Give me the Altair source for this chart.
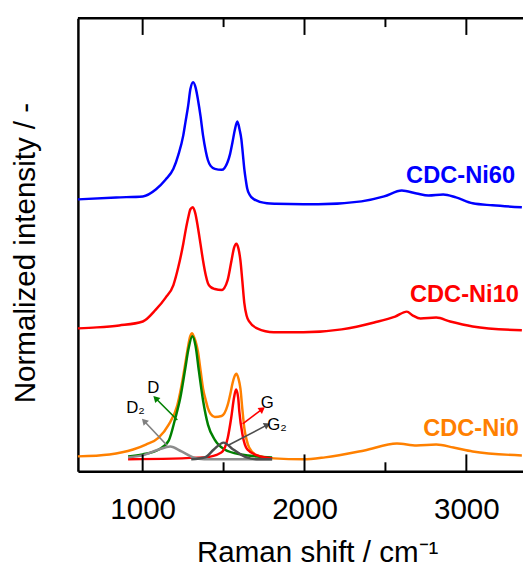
import math
import altair as alt
import pandas as pd

FONT = "Liberation Sans"

# ---------------- data ----------------
# Raman shift (cm-1) and offset normalized intensity for each spectrum
wn_ni60 = [600, 837, 1001, 1081, 1141, 1190, 1220, 1251, 1265, 1281, 1295, 1312, 1328, 1342, 1358,
           1373, 1390, 1403, 1420, 1446, 1488, 1525, 1540, 1555, 1570, 1585, 1600, 1610, 1618, 1628,
           1637, 1646, 1660, 1689, 1768, 1823, 1993, 2084, 2352, 2492, 2601, 2693, 2766, 2857, 2936,
           3039, 3161, 3343]
int_ni60 = [2.76, 2.78, 2.79, 2.86, 2.96, 3.07, 3.21, 3.41, 3.55, 3.71, 3.88, 3.95, 3.89, 3.77, 3.60,
            3.41, 3.25, 3.16, 3.10, 3.07, 3.06, 3.14, 3.22, 3.34, 3.47, 3.55, 3.46, 3.37, 3.24, 3.07,
            2.96, 2.87, 2.81, 2.76, 2.72, 2.715, 2.71, 2.71, 2.74, 2.79, 2.85, 2.82, 2.80, 2.81, 2.78,
            2.72, 2.70, 2.68]

wn_ni10 = [600, 716, 855, 1001, 1081, 1141, 1190, 1220, 1251, 1265, 1281, 1295, 1310, 1325, 1342,
           1358, 1373, 1390, 1403, 1420, 1446, 1488, 1525, 1549, 1565, 1579, 1592, 1604, 1616, 1628,
           1642, 1658, 1707, 1810, 1993, 2230, 2431, 2560, 2632, 2670, 2717, 2814, 2900, 3039, 3343]
int_ni10 = [1.45, 1.46, 1.48, 1.52, 1.64, 1.76, 1.89, 2.07, 2.31, 2.44, 2.57, 2.66, 2.68, 2.62, 2.47,
            2.30, 2.14, 1.99, 1.91, 1.87, 1.85, 1.84, 1.94, 2.14, 2.27, 2.31, 2.26, 2.14, 1.93, 1.71,
            1.58, 1.52, 1.45, 1.41, 1.41, 1.44, 1.51, 1.57, 1.62, 1.58, 1.55, 1.56, 1.52, 1.47, 1.43]

wn_ni0 = [600, 795, 941, 1020, 1099, 1160, 1214, 1251, 1268, 1281, 1294, 1306, 1318, 1330, 1342,
          1358, 1373, 1390, 1403, 1420, 1446, 1488, 1525, 1545, 1555, 1567, 1579, 1592, 1604, 1616,
          1628, 1642, 1658, 1707, 1810, 1993, 2127, 2370, 2571, 2693, 2814, 2920, 3039, 3343]
int_ni0 = [0.15, 0.17, 0.22, 0.27, 0.34, 0.47, 0.67, 0.97, 1.14, 1.27, 1.37, 1.40, 1.36, 1.30, 1.21,
           1.02, 0.84, 0.72, 0.64, 0.58, 0.55, 0.56, 0.67, 0.81, 0.89, 0.96, 0.99, 0.94, 0.84, 0.63,
           0.44, 0.32, 0.24, 0.16, 0.13, 0.12, 0.14, 0.21, 0.28, 0.26, 0.27, 0.24, 0.20, 0.16]

# Fitted components of CDC-Ni0
wn_D = [910, 1000, 1100, 1161, 1202, 1232, 1263, 1283, 1307, 1327, 1348, 1374, 1404, 1445, 1506, 1608, 1800]
int_D = [0.15, 0.17, 0.22, 0.31, 0.54, 0.74, 1.04, 1.24, 1.37, 1.27, 1.01, 0.71, 0.47, 0.32, 0.22, 0.17, 0.14]

wn_G = [910, 1384, 1486, 1526, 1547, 1565, 1577, 1590, 1597, 1617, 1647, 1708, 1800]
int_G = [0.12, 0.14, 0.19, 0.34, 0.54, 0.75, 0.83, 0.75, 0.61, 0.37, 0.22, 0.16, 0.13]

wn_D2 = [910, 1000, 1100, 1170, 1240, 1312, 1380, 1800]
int_D2 = [0.14, 0.16, 0.22, 0.25, 0.20, 0.14, 0.12, 0.12]

wn_G2 = [1300, 1384, 1440, 1500, 1560, 1642, 1720, 1800]
int_G2 = [0.12, 0.14, 0.22, 0.29, 0.22, 0.14, 0.12, 0.12]

# Annotation arrows (start -> head) and labels
arrow_names = ["D", "D2", "G", "G2"]
arrow_x1 = [1214, 1151, 1618, 1526]
arrow_y1 = [0.52, 0.26, 0.48, 0.26]
arrow_x2 = [1080, 1009, 1739, 1770]
arrow_y2 = [0.74, 0.51, 0.63, 0.47]

label_text = ["D", "D\u2082", "G", "G\u2082"]
label_x = [1029, 898, 1729, 1770]
label_y = [0.79, 0.59, 0.64, 0.42]

series_names = ["CDC-Ni60", "CDC-Ni10", "CDC-Ni0"]
series_label_x = [3301, 3325, 3325]
series_label_y = [2.93, 1.72, 0.36]

tick_values = [1000, 1500, 2000, 2500, 3000]
tick_major = [True, False, True, False, True]
label_values = [1000, 2000, 3000]

# ---------------- styling ----------------
series_colors = ["#0000FF", "#FF0000", "#FF8000"]
arrow_colors = {"D": "#008000", "D2": "#808080", "G": "#FF0000", "G2": "#4D4D4D"}

W, H = 452, 460
X_MIN, X_MAX = 600, 3350
Y_MAX = 4.6

x_scale = alt.Scale(domain=[X_MIN, X_MAX], nice=False, zero=False)
y_scale = alt.Scale(domain=[0, Y_MAX], nice=False, zero=False)

x_axis = alt.Axis(values=label_values, format="d", ticks=False, tickSize=0, grid=False,
                  domain=True, domainColor="black", domainWidth=2.5,
                  labelFont=FONT, labelFontSize=30, labelColor="black", labelPadding=24,
                  labelFlush=False,
                  title="Raman shift / cm\u207b\u00b9", titleFont=FONT, titleFontSize=30,
                  titleFontWeight="normal", titleColor="black", titleX=243, titleY=92,
                  titleAlign="center", titleBaseline="alphabetic")
y_axis = alt.Axis(ticks=False, labels=False, grid=False, domain=True, domainColor="black",
                  domainWidth=2.5, title="Normalized intensity / -", titleFont=FONT,
                  titleFontSize=30, titleFontWeight="normal", titleColor="black",
                  titleX=-44, titleY=238, titleAngle=270, titleAlign="center",
                  titleBaseline="alphabetic")


def X(field="wn"):
    return alt.X(f"{field}:Q", scale=x_scale, axis=x_axis)


def Y(field="I"):
    return alt.Y(f"{field}:Q", scale=y_scale, axis=y_axis)


# spectra
spec_df = pd.concat([
    pd.DataFrame({"wn": wn_ni60, "I": int_ni60, "s": "CDC-Ni60"}),
    pd.DataFrame({"wn": wn_ni10, "I": int_ni10, "s": "CDC-Ni10"}),
    pd.DataFrame({"wn": wn_ni0, "I": int_ni0, "s": "CDC-Ni0"}),
])
spectra = alt.Chart(spec_df).mark_line(strokeWidth=2.5, interpolate="monotone").encode(
    x=X(), y=Y(),
    color=alt.Color("s:N", scale=alt.Scale(domain=series_names, range=series_colors), legend=None),
)


def fit_layer(w, i, color):
    df = pd.DataFrame({"wn": w, "I": i})
    return alt.Chart(df).mark_line(strokeWidth=2.5, interpolate="monotone", color=color).encode(
        x=X(), y=Y())


fit_D = fit_layer(wn_D, int_D, "#008000")
fit_G = fit_layer(wn_G, int_G, "#FF0000")
fit_D2 = fit_layer(wn_D2, int_D2, "#8C8C8C")
fit_G2 = fit_layer(wn_G2, int_G2, "#4D4D4D")

# arrows
px_per_wn = W / (X_MAX - X_MIN)
px_per_I = H / Y_MAX
arr_df = pd.DataFrame({"name": arrow_names, "wn": arrow_x1, "I": arrow_y1,
                       "wn2": arrow_x2, "I2": arrow_y2})
arr_df["c"] = arr_df["name"].map(arrow_colors)
arr_df["ang"] = [
    math.degrees(math.atan2((b - a) * px_per_wn, (d - c) * px_per_I)) % 360
    for a, b, c, d in zip(arr_df["wn"], arr_df["wn2"], arr_df["I"], arr_df["I2"])
]
shafts = alt.Chart(arr_df).mark_rule(strokeWidth=1.6).encode(
    x=X(), y=Y(), x2="wn2:Q", y2="I2:Q", color=alt.Color("c:N", scale=None))
heads_df = pd.DataFrame({"wn": arr_df["wn2"], "I": arr_df["I2"], "c": arr_df["c"], "ang": arr_df["ang"]})
heads = alt.Chart(heads_df).mark_point(shape="triangle-up", filled=True, size=55, opacity=1).encode(
    x=X(), y=Y(), color=alt.Color("c:N", scale=None), angle=alt.Angle("ang:Q", scale=None))

comp_labels = alt.Chart(pd.DataFrame({"t": label_text, "wn": label_x, "I": label_y})).mark_text(
    font=FONT, fontSize=17, align="left", baseline="alphabetic", color="black").encode(
    x=X(), y=Y(), text="t:N")

series_labels = alt.Chart(pd.DataFrame({"t": series_names, "wn": series_label_x, "I": series_label_y})).mark_text(
    font=FONT, fontSize=24, fontWeight="bold", align="right", baseline="alphabetic").encode(
    x=X(), y=Y(), text="t:N",
    color=alt.Color("t:N", scale=alt.Scale(domain=series_names, range=series_colors), legend=None))

# frame top line and inward ticks
top_df = pd.DataFrame({"wn": [X_MIN], "wn2": [X_MAX], "I": [Y_MAX]})
top_line = alt.Chart(top_df).mark_rule(strokeWidth=2.5, color="black").encode(
    x=X(), x2="wn2:Q", y=Y())

tick_rows = []
for v, major in zip(tick_values, tick_major):
    L = (17 if major else 9) / px_per_I
    tick_rows.append({"wn": v, "I": 0, "I2": L})
    tick_rows.append({"wn": v, "I": Y_MAX, "I2": Y_MAX - L})
ticks = alt.Chart(pd.DataFrame(tick_rows)).mark_rule(strokeWidth=2, color="black").encode(
    x=X(), y=Y(), y2="I2:Q")

chart = alt.layer(
    spectra, fit_D, fit_G, fit_D2, fit_G2, shafts, heads, comp_labels, series_labels, top_line, ticks
).properties(
    width=W, height=H,
    autosize=alt.AutoSizeParams(type="none"),
    padding={"left": 71, "top": 6, "right": 0, "bottom": 95},
).configure_view(stroke=None)

chart.save("out.html", embed_options={"renderer": "svg", "actions": False})
